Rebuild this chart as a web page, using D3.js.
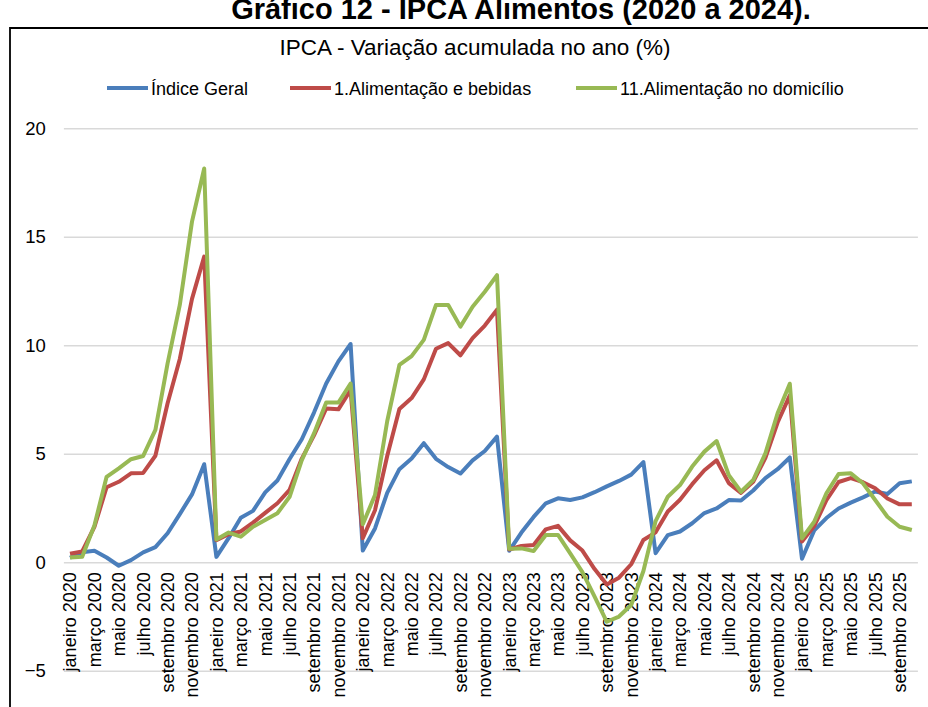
<!DOCTYPE html>
<html><head><meta charset="utf-8">
<script src="https://cdn.jsdelivr.net/npm/d3@7"></script>
<style>
html,body{margin:0;padding:0;background:#fff;}
svg{display:block;font-family:"Liberation Sans",Arial,sans-serif;}
</style></head>
<body><svg id="chart" width="928" height="707"></svg>
<script>
const monthNames = ["janeiro","fevereiro","março","abril","maio","junho","julho","agosto","setembro","outubro","novembro","dezembro"];
const years = [2020,2021,2022,2023,2024,2025];
const categories = [];
years.forEach(y => monthNames.forEach(m => categories.push(m + " " + y)));
categories.length = 70; // janeiro 2020 .. outubro 2025

const indiceGeral = [
  0.21,0.46,0.53,0.22,-0.16,0.10,0.46,0.70,1.34,2.22,3.13,4.52,
  0.25,1.11,2.05,2.37,3.22,3.77,4.76,5.67,6.90,8.24,9.26,10.06,
  0.54,1.56,3.20,4.29,4.78,5.49,4.77,4.39,4.09,4.70,5.13,5.79,
  0.53,1.37,2.09,2.72,2.95,2.87,2.99,3.23,3.50,3.75,4.04,4.62,
  0.42,1.25,1.42,1.80,2.27,2.48,2.87,2.85,3.31,3.88,4.29,4.83,
  0.16,1.47,2.04,2.48,2.75,2.99,3.26,3.15,3.64,3.73
];
const alimBebidas = [
  0.39,0.50,1.63,3.46,3.71,4.10,4.12,4.91,7.33,9.37,12.14,14.09,
  1.02,1.29,1.42,1.83,2.28,2.72,3.34,4.78,5.85,7.09,7.05,7.94,
  1.11,2.40,4.90,7.06,7.57,8.43,9.84,10.10,9.54,10.33,10.91,11.64,
  0.59,0.75,0.80,1.52,1.68,1.01,0.54,-0.31,-1.02,-0.71,-0.09,1.03,
  1.38,2.34,2.88,3.60,4.24,4.70,3.65,3.20,3.71,4.81,6.44,7.69,
  0.96,1.67,2.86,3.70,3.88,3.69,3.41,2.94,2.67,2.68
];
const alimDomicilio = [
  0.22,0.26,1.70,3.94,4.33,4.75,4.90,6.10,9.17,11.86,15.70,18.15,
  1.05,1.37,1.18,1.64,1.95,2.26,3.02,4.71,5.94,7.36,7.36,8.24,
  1.75,3.10,6.50,9.10,9.50,10.25,11.86,11.86,10.86,11.78,12.47,13.23,
  0.62,0.64,0.52,1.26,1.26,0.41,-0.45,-1.58,-2.74,-2.50,-1.97,-0.40,
  1.90,3.02,3.56,4.41,5.10,5.59,4.02,3.25,3.79,5.02,6.87,8.23,
  1.10,1.87,3.18,4.07,4.10,3.64,2.87,2.10,1.64,1.49
];
const seriesNames = ["Índice Geral","1.Alimentação e bebidas","11.Alimentação no domicílio"];
const seriesColors = ["#4a7ebb","#be4b48","#98b954"];
const yTicks = [-5,0,5,10,15,20];
const titleText = "Gráfico 12 - IPCA Alimentos (2020 a 2024).";
const subtitleText = "IPCA - Variação acumulada no ano (%)";

const svg = d3.select("#chart");
const x = d3.scaleBand().domain(categories).range([63.9, 917.9]);
const y = d3.scaleLinear().domain([-5,20]).range([670.8, 128.3]);

// title (partially cut at top, as in the source)
svg.append("text").attr("x",521).attr("y",19).attr("text-anchor","middle")
  .attr("font-size",29).attr("font-weight","bold").attr("fill","#000").text(titleText);

// frame
svg.append("path").attr("d","M10,710 L10,28 L930,28").attr("fill","none").attr("stroke","#000").attr("stroke-width",1.8);

// subtitle
svg.append("text").attr("x",475).attr("y",55).attr("text-anchor","middle")
  .attr("font-size",22.5).attr("fill","#000").text(subtitleText);

// legend
const legendX = [107, 290, 576];
seriesNames.forEach((n,i) => {
  const g = svg.append("g");
  g.append("line").attr("x1",legendX[i]).attr("x2",legendX[i]+41).attr("y1",88).attr("y2",88)
    .attr("stroke",seriesColors[i]).attr("stroke-width",4);
  g.append("text").attr("x",legendX[i]+44).attr("y",94.5).attr("font-size",18).attr("fill","#000").text(n);
});

// y gridlines & labels
const yAxis = d3.axisLeft(y).tickValues(yTicks).tickSize(-(917.9-63.9)).tickFormat(d3.format("d"));
const ga = svg.append("g").attr("transform","translate(63.9,0)").call(yAxis);
ga.select(".domain").remove();
ga.selectAll(".tick line").attr("stroke","#d9d9d9").attr("stroke-width",1.5);
ga.selectAll(".tick text").attr("x",-18).attr("font-size",18.5).attr("fill","#000")
  .attr("font-family","Liberation Sans, Arial, sans-serif");

// x axis labels at y=0
const xAxis = d3.axisBottom(x).tickValues(categories.filter((d,i)=>i%2===0)).tickSize(0);
const gx = svg.append("g").attr("transform",`translate(0,${y(0)})`).call(xAxis);
gx.select(".domain").remove();
gx.selectAll(".tick text").attr("font-size",18).attr("fill","#000")
  .attr("font-family","Liberation Sans, Arial, sans-serif")
  .attr("text-anchor","end").attr("transform","rotate(-90)")
  .attr("x",-10).attr("y",0).attr("dy","0.35em");

// lines
const line = d3.line().x((d,i)=>x(categories[i])+x.bandwidth()/2).y(d=>y(d));
[indiceGeral, alimBebidas, alimDomicilio].forEach((s,i)=>{
  svg.append("path").datum(s).attr("d",line).attr("fill","none")
    .attr("stroke",seriesColors[i]).attr("stroke-width",4).attr("stroke-linejoin","round");
});
</script></body></html>
